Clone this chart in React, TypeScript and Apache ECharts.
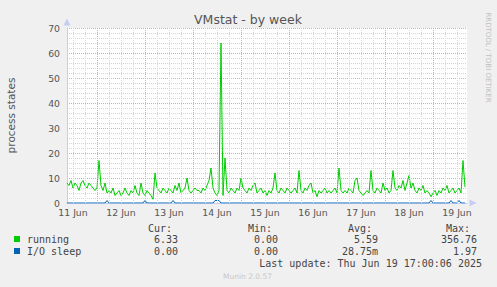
import React, { useEffect, useRef } from "react";
import * as echarts from "echarts";

// Hours are counted from 11 Jun 00:00; one value per hour starting at 11 Jun 09:00
const START_HOUR = 9;
const END_HOUR = 209;

const running = [
  8, 7, 9, 6, 8, 7, 5, 8, 9, 7, 6, 8,
  7, 6, 5, 6, 17, 7, 5, 8, 4, 5, 4, 6,
  3, 4, 5, 3, 4, 6, 4, 3, 5, 4, 7, 4,
  3, 8, 4, 3, 5, 4, 3, 1.5, 12, 6, 5, 4,
  6, 5, 4, 6, 5, 4, 7, 5, 8, 4, 5, 6,
  10, 5, 4, 5, 6, 5, 5, 4, 6, 5, 7, 9,
  14, 6, 4, 3, 5, 64, 3, 18, 5, 4, 6, 5,
  4, 6, 5, 10, 6, 5, 4, 6, 5, 7, 8, 4,
  5, 6, 4, 5, 3, 5, 4, 6, 12, 5, 4, 6,
  5, 4, 6, 5, 4, 5, 6, 4, 13, 5, 4, 6,
  5, 7, 8, 4, 5, 2.5, 5, 4, 5, 6, 4, 5,
  4, 5, 6, 4, 14, 5, 4, 5, 4, 6, 5, 4,
  9, 10, 5, 4, 3, 4, 5, 4, 13, 5, 4, 6,
  5, 4, 8, 5, 6, 4, 5, 13, 6, 5, 7, 6,
  9, 5, 8, 11, 6, 8, 5, 4, 6, 5, 7, 4,
  5, 4, 2.5, 4, 5, 3, 5, 4, 6, 5, 7, 4,
  5, 6, 4, 5, 6, 4, 17, 6.33,
];

const ioSleep = [
  0, 0, 0, 0, 0, 0, 0, 0, 0, 0, 0, 0,
  0, 0, 0, 0, 0, 0, 0, 0, 1, 0, 0, 0,
  0, 0, 0, 0, 0, 0, 0, 0, 0, 0, 0, 0,
  0, 0, 0, 1, 0, 0, 0, 0, 0, 0, 0, 0,
  0, 0, 0, 0, 0, 1, 0, 0, 0, 0, 0, 0,
  0, 0, 0, 0, 0, 0, 0, 0, 0, 0, 0, 0,
  0, 0, 1, 1, 1, 0, 0, 0, 0, 0, 0, 0,
  0, 0, 0, 0, 0, 0, 0, 0, 0, 0, 0, 0,
  0, 0, 0, 0, 0, 0, 0, 0, 0, 0, 0, 0,
  0, 0, 0, 0, 0, 0, 0, 0, 0, 0, 0, 0,
  0, 0, 0, 0, 0, 0, 0, 0, 0, 0, 0, 0,
  0, 0, 0, 0, 0, 0, 0, 0, 0, 0, 0, 0,
  0, 0, 0, 0, 0, 0, 0, 0, 0, 0, 0, 0,
  0, 0, 0, 0, 0, 0, 0, 0, 0, 0, 0, 0,
  0, 0, 0, 0, 0, 0, 0, 0, 0, 0, 0, 0,
  0, 0, 1, 0, 0, 0, 0, 0, 0, 0, 0, 0,
  1, 0, 0, 0, 1, 0, 0, 0,
];

const dayLabels = ["11 Jun", "12 Jun", "13 Jun", "14 Jun", "15 Jun", "16 Jun", "17 Jun", "18 Jun", "19 Jun"];
const labelHours = [12, 36, 60, 84, 108, 132, 156, 180, 204];
const midnightHours = [24, 48, 72, 96, 120, 144, 168, 192];
const sixHourLines = [
  12, 18, 30, 36, 42, 54, 60, 66, 78, 84, 90, 102, 108, 114, 126, 132, 138,
  150, 156, 162, 174, 180, 186, 198, 204,
];

const legendHeaders = ["Cur:", "Min:", "Avg:", "Max:"];
const runningStats = ["6.33", "0.00", "5.59", "356.76"];
const ioStats = ["0.00", "0.00", "28.75m", "1.97"];

const GREEN = "#00CC00";
const BLUE = "#0066B3";
const AXIS = "#c6cdf2";
const MONO = "'DejaVu Sans Mono', monospace";
const SANS = "'DejaVu Sans', sans-serif";

export default function App() {
  const ref = useRef<HTMLDivElement>(null);

  useEffect(() => {
    if (!ref.current) return;
    const chart = echarts.init(ref.current, null, { renderer: "svg" });

    const headerX = [172, 272, 372, 470];
    const valueX = [178, 278, 378, 477];

    const graphics: any[] = [
      {
        type: "text",
        x: 248,
        y: 19.5,
        style: { text: "VMstat - by week", fill: "#555", font: `12.5px ${SANS}`, align: "center", verticalAlign: "middle" },
      },
      {
        type: "text",
        x: 11,
        y: 115.5,
        rotation: Math.PI / 2,
        style: { text: "process states", fill: "#555", font: `10.5px ${SANS}`, align: "center", verticalAlign: "middle" },
      },
      {
        type: "text",
        x: 487.5,
        y: 57.5,
        rotation: -Math.PI / 2,
        style: { text: "RRDTOOL / TOBI OETIKER", fill: "#c0c0c0", font: `7px ${SANS}`, align: "center", verticalAlign: "middle" },
      },
      { type: "rect", shape: { x: 14, y: 236, width: 6, height: 6 }, style: { fill: GREEN } },
      { type: "rect", shape: { x: 14, y: 248, width: 6, height: 6 }, style: { fill: BLUE } },
      {
        type: "text",
        x: 27,
        y: 239.5,
        style: { text: "running", fill: "#444", font: `10px ${MONO}`, align: "left", verticalAlign: "middle" },
      },
      {
        type: "text",
        x: 27,
        y: 251.5,
        style: { text: "I/O sleep", fill: "#444", font: `10px ${MONO}`, align: "left", verticalAlign: "middle" },
      },
      {
        type: "text",
        x: 482,
        y: 263.5,
        style: { text: "Last update: Thu Jun 19 17:00:06 2025", fill: "#444", font: `10px ${MONO}`, align: "right", verticalAlign: "middle" },
      },
      {
        type: "text",
        x: 247.5,
        y: 276,
        style: { text: "Munin 2.0.57", fill: "#c8c8c8", font: `7.5px ${SANS}`, align: "center", verticalAlign: "middle" },
      },
    ];
    legendHeaders.forEach((h, i) => {
      graphics.push({
        type: "text",
        x: headerX[i],
        y: 228,
        style: { text: h, fill: "#444", font: `10px ${MONO}`, align: "right", verticalAlign: "middle" },
      });
      graphics.push({
        type: "text",
        x: valueX[i],
        y: 239.5,
        style: { text: runningStats[i], fill: "#444", font: `10px ${MONO}`, align: "right", verticalAlign: "middle" },
      });
      graphics.push({
        type: "text",
        x: valueX[i],
        y: 251.5,
        style: { text: ioStats[i], fill: "#444", font: `10px ${MONO}`, align: "right", verticalAlign: "middle" },
      });
    });

    const gridMarks = [
      ...sixHourLines.map((h) => ({
        xAxis: h,
        lineStyle: { color: "#d4d4d4", type: [1, 1], width: 1 },
      })),
      ...midnightHours.map((h) => ({
        xAxis: h,
        lineStyle: { color: "#e9a3a3", type: [1, 1], width: 1 },
      })),
    ];

    chart.setOption({
      animation: false,
      backgroundColor: "#f0f0f0",
      grid: {
        left: 67,
        top: 28,
        width: 400,
        height: 175,
        show: true,
        backgroundColor: "#ffffff",
        borderWidth: 0,
      },
      xAxis: {
        type: "value",
        min: START_HOUR,
        max: END_HOUR,
        axisLine: {
          show: true,
          onZero: false,
          lineStyle: { color: AXIS, width: 1 },
          symbol: ["none", "triangle"],
          symbolSize: [7, 7],
          symbolOffset: [0, 6],
        },
        axisTick: { show: false },
        splitLine: { show: false },
        axisLabel: {
          customValues: labelHours,
          color: "#555",
          fontFamily: SANS,
          fontSize: 9.3,
          margin: 5,
          formatter: (v: number) => dayLabels[labelHours.indexOf(v)] ?? "",
        },
      },
      yAxis: {
        type: "value",
        min: 0,
        max: 70,
        interval: 10,
        axisLine: {
          show: true,
          lineStyle: { color: AXIS, width: 1 },
          symbol: ["none", "triangle"],
          symbolSize: [7, 7],
          symbolOffset: [0, 6],
        },
        axisTick: { show: false },
        axisLabel: { color: "#555", fontFamily: SANS, fontSize: 9.3, margin: 7 },
        splitLine: { show: true, lineStyle: { color: "#e9a3a3", type: [1, 1], width: 1 } },
        minorTick: { show: false, splitNumber: 5 },
        minorSplitLine: { show: true, lineStyle: { color: "#d4d4d4", type: [1, 1], width: 1 } },
      },
      series: [
        {
          type: "line",
          data: [],
          silent: true,
          z: 1,
          markLine: {
            silent: true,
            symbol: ["none", "none"],
            label: { show: false },
            animation: false,
            data: gridMarks,
          },
        },
        {
          name: "running",
          type: "line",
          z: 3,
          showSymbol: false,
          data: running.map((v, i) => [START_HOUR + i, v]),
          lineStyle: { color: GREEN, width: 1 },
          itemStyle: { color: GREEN },
        },
        {
          name: "I/O sleep",
          type: "line",
          z: 4,
          showSymbol: false,
          data: ioSleep.map((v, i) => [START_HOUR + i, v]),
          lineStyle: { color: BLUE, width: 1 },
          itemStyle: { color: BLUE },
        },
      ],
      graphic: graphics,
    });

    return () => chart.dispose();
  }, []);

  return (
    <div
      ref={ref}
      style={{ position: "fixed", left: 0, top: 0, width: 497, height: 287 }}
    />
  );
}
